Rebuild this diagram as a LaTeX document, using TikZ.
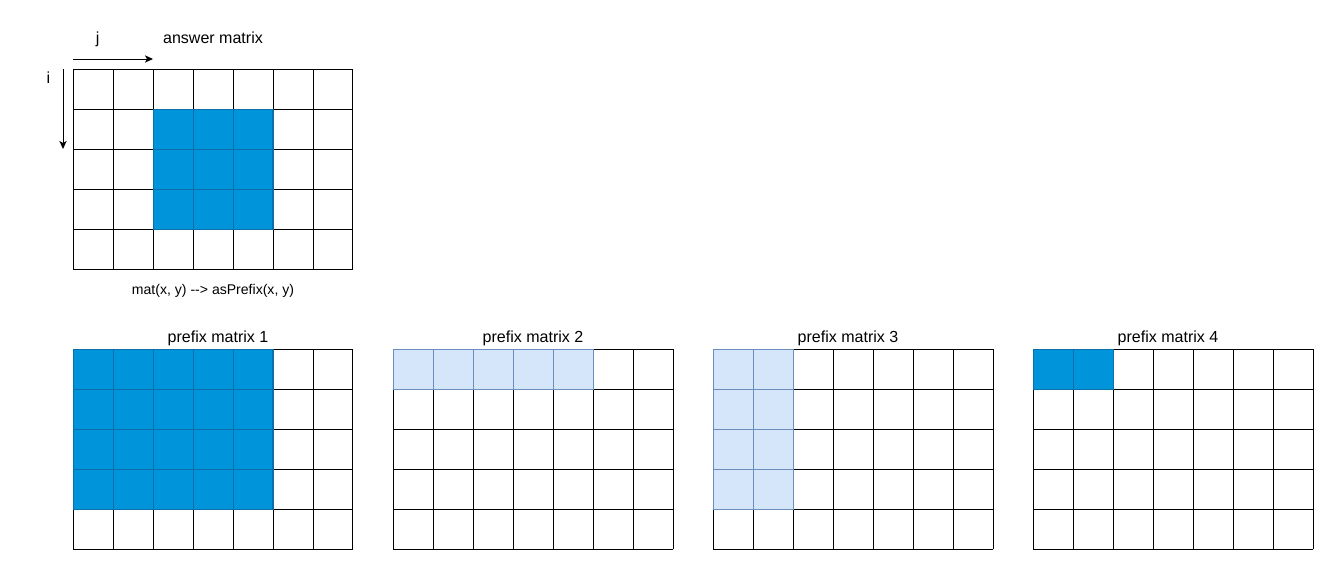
\documentclass[tikz,border=0pt]{standalone}
\usepackage{fontspec}
\setmainfont{Liberation Sans}
\usetikzlibrary{arrows.meta}
\definecolor{darkfill}{HTML}{0095DA}
\definecolor{darkline}{HTML}{0B6FAA}
\definecolor{lightfill}{HTML}{D6E6FA}
\definecolor{lightline}{HTML}{6C8EBF}
\tikzset{
  gridline/.style={line width=0.7pt},
  darkcell/.style={gridline, draw=darkline, fill=darkfill},
  lightcell/.style={gridline, draw=lightline, fill=lightfill},
  titletext/.style={anchor=base, inner sep=0pt, font=\fontsize{11.4}{13.7}\selectfont},
  smalltext/.style={anchor=base, inner sep=0pt, font=\fontsize{10}{12}\selectfont},
  axisarrow/.style={line width=0.7pt, -{Stealth[length=2mm, width=1.8mm, inset=0.5mm]}}
}
\begin{document}
\begin{tikzpicture}
  \useasboundingbox (0,0) rectangle (33.4,-14.3);
  % answer matrix
  \node[titletext] (answer) at (5.325,-1.1) {answer matrix};
  \node[titletext] (jlabel) at (2.44,-1.1) {j};
  \node[titletext] (ilabel) at (1.21,-2.08) {i};
  \coordinate (j0) at (1.825,-1.475);
  \coordinate (j1) at (3.825,-1.475);
  \coordinate (i0) at (1.575,-1.725);
  \coordinate (i1) at (1.575,-3.725);
  \draw[axisarrow] (j0) -- (j1);
  \draw[axisarrow] (i0) -- (i1);
  \begin{scope}[shift={(1.825,-1.725)}]
    \draw[gridline] (0,0) grid (7,-5);
    \filldraw[darkcell] (2,-1) rectangle (5,-4);
    \draw[gridline, darkline] (2,-1) grid (5,-4);
  \end{scope}
  \node[smalltext] (mapping) at (5.325,-7.375) {mat(x, y) -{}-{}> asPrefix(x, y)};
  % prefix matrices
  \foreach \k/\tx in {1/5.45,2/13.325,3/21.2,4/29.2} {
    \node[titletext] (prefix\k) at (\tx,-8.575) {prefix matrix \k};
    \draw[gridline, shift={(8*\k-6.175,-8.725)}] (0,0) grid (7,-5);
  }
  % prefix matrix 1
  \begin{scope}[shift={(1.825,-8.725)}]
    \filldraw[darkcell] (0,0) rectangle (5,-4);
    \draw[gridline, darkline] (0,0) grid (5,-4);
  \end{scope}
  % prefix matrix 2
  \begin{scope}[shift={(9.825,-8.725)}]
    \filldraw[lightcell] (0,0) rectangle (5,-1);
    \draw[gridline, lightline] (0,0) grid (5,-1);
  \end{scope}
  % prefix matrix 3
  \begin{scope}[shift={(17.825,-8.725)}]
    \filldraw[lightcell] (0,0) rectangle (2,-4);
    \draw[gridline, lightline] (0,0) grid (2,-4);
  \end{scope}
  % prefix matrix 4
  \begin{scope}[shift={(25.825,-8.725)}]
    \filldraw[darkcell] (0,0) rectangle (2,-1);
    \draw[gridline, darkline] (0,0) grid (2,-1);
  \end{scope}
\end{tikzpicture}
\end{document}
